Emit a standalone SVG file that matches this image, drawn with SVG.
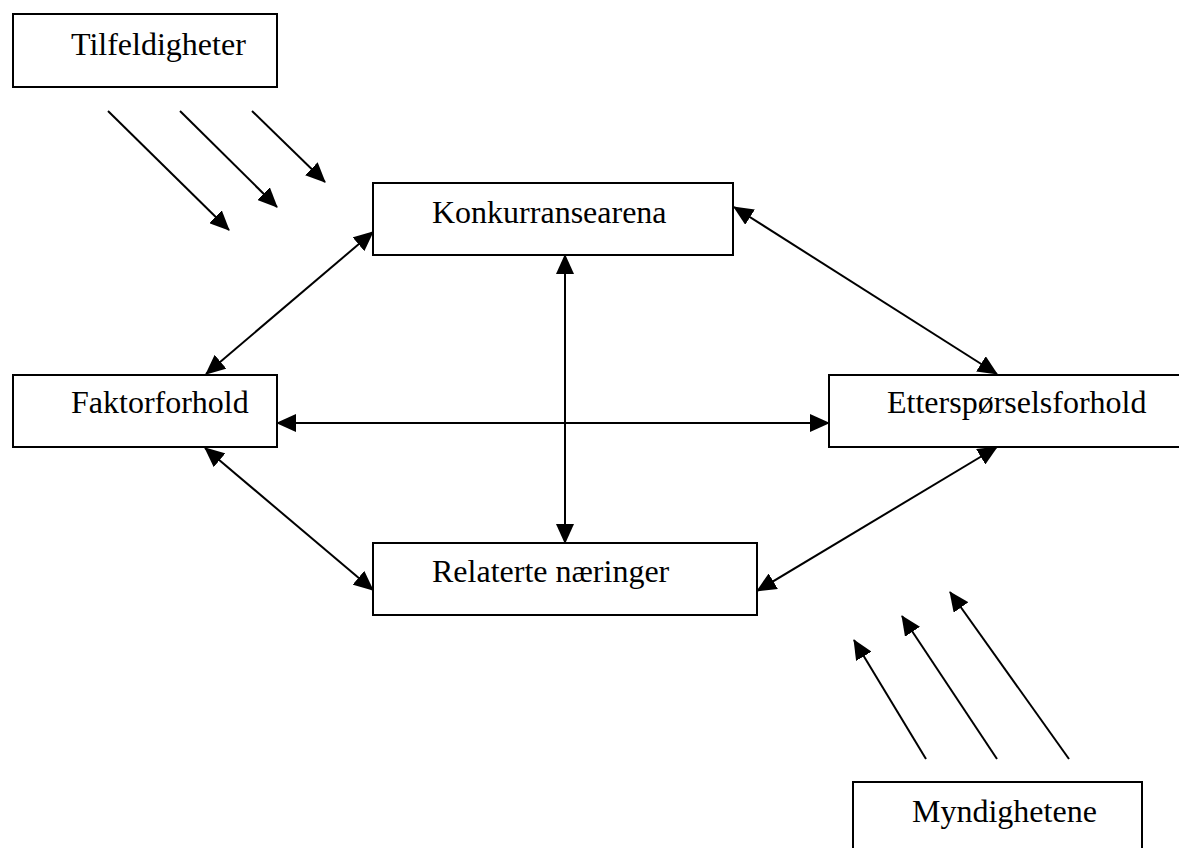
<svg xmlns="http://www.w3.org/2000/svg" width="1179" height="848" viewBox="0 0 1179 848">
<style>
.box{fill:#fff;stroke:#000;stroke-width:2}
.lbl{font-family:"Liberation Serif","Times New Roman",serif;font-size:32px;fill:#000}
.con{stroke:#000;stroke-width:2;fill:none}
</style>
<defs>
<marker id="ah" markerUnits="userSpaceOnUse" markerWidth="20" markerHeight="18" refX="19" refY="9" orient="auto-start-reverse" viewBox="0 0 20 18">
<path d="M0,0 L20,9 L0,18 z" fill="#000"/>
</marker>
</defs>
<rect width="1179" height="848" fill="#fff"/>
<g id="connectors">
<line class="con" x1="108" y1="111" x2="229" y2="230" marker-end="url(#ah)"/>
<line class="con" x1="180" y1="111" x2="277" y2="207" marker-end="url(#ah)"/>
<line class="con" x1="252" y1="111" x2="325" y2="182" marker-end="url(#ah)"/>
<line class="con" x1="926" y1="759" x2="854" y2="640" marker-end="url(#ah)"/>
<line class="con" x1="997" y1="759" x2="902" y2="616" marker-end="url(#ah)"/>
<line class="con" x1="1069" y1="759" x2="950" y2="592" marker-end="url(#ah)"/>
<line class="con" x1="206" y1="374" x2="373" y2="232" marker-start="url(#ah)" marker-end="url(#ah)"/>
<line class="con" x1="734" y1="207" x2="997" y2="374" marker-start="url(#ah)" marker-end="url(#ah)"/>
<line class="con" x1="205" y1="448" x2="373" y2="590" marker-start="url(#ah)" marker-end="url(#ah)"/>
<line class="con" x1="997" y1="447" x2="757" y2="591" marker-start="url(#ah)" marker-end="url(#ah)"/>
<line class="con" x1="565" y1="255" x2="565" y2="543" marker-start="url(#ah)" marker-end="url(#ah)"/>
<line class="con" x1="277" y1="423" x2="829" y2="423" marker-start="url(#ah)" marker-end="url(#ah)"/>
</g>
<g id="tilfeldigheter">
<rect class="box" x="13" y="14" width="264" height="73"/>
<text class="lbl" x="71" y="55">Tilfeldigheter</text>
</g>
<g id="konkurransearena">
<rect class="box" x="373" y="183" width="360" height="72"/>
<text class="lbl" x="432" y="223">Konkurransearena</text>
</g>
<g id="faktorforhold">
<rect class="box" x="13" y="375" width="264" height="72"/>
<text class="lbl" x="71" y="413">Faktorforhold</text>
</g>
<g id="ettersporselsforhold">
<rect class="box" x="829" y="375" width="352" height="72"/>
<text class="lbl" x="887" y="413">Etterspørselsforhold</text>
</g>
<g id="relaterte">
<rect class="box" x="373" y="543" width="384" height="72"/>
<text class="lbl" x="432" y="582">Relaterte næringer</text>
</g>
<g id="myndighetene">
<rect class="box" x="853" y="782" width="289" height="80"/>
<text class="lbl" x="912" y="822">Myndighetene</text>
</g>
</svg>
